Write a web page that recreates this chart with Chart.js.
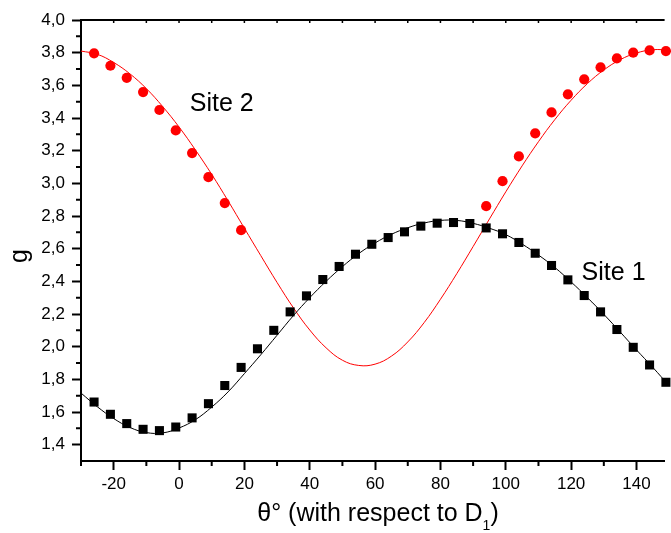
<!DOCTYPE html>
<html>
<head>
<meta charset="utf-8">
<script src="https://cdn.jsdelivr.net/npm/chart.js@4.4.1/dist/chart.umd.min.js"></script>
<style>
  html, body { margin: 0; padding: 0; background: #fff; }
  canvas { display: block; }
</style>
</head>
<body>
<canvas id="chart" width="671" height="533"></canvas>
<script>
// Site 1 measurements (black squares)
const site1Theta = [-26, -21, -16, -11, -6, -1, 4, 9, 14, 19, 24, 29, 34, 39, 44, 49, 54, 59,
                    64, 69, 74, 79, 84, 89, 94, 99, 104, 109, 114, 119, 124, 129, 134, 139, 144, 149];
const site1G = [1.661, 1.586, 1.529, 1.494, 1.486, 1.508, 1.564, 1.651, 1.762, 1.873, 1.987, 2.100,
                2.213, 2.311, 2.411, 2.491, 2.566, 2.627, 2.668, 2.703, 2.738, 2.756, 2.760, 2.754,
                2.727, 2.691, 2.638, 2.572, 2.497, 2.409, 2.313, 2.213, 2.105, 1.996, 1.888, 1.782];

// Site 2 measurements (red circles)
const site2Theta = [-26, -21, -16, -11, -6, -1, 4, 9, 14, 19,
                    94, 99, 104, 109, 114, 119, 124, 129, 134, 139, 144, 149];
const site2G = [3.796, 3.720, 3.646, 3.559, 3.449, 3.324, 3.185, 3.038, 2.879, 2.713,
                2.860, 3.013, 3.165, 3.306, 3.434, 3.545, 3.637, 3.710, 3.765, 3.800, 3.814, 3.810];

const fitTheta = [-30, -25, -20, -15, -10, -5, 0, 5, 10, 15, 20, 25, 30, 35, 40, 45, 50, 55, 60,
                  65, 70, 75, 80, 85, 90, 95, 100, 105, 110, 115, 120, 125, 130, 135, 140, 145, 150];
const fit1G = [1.716, 1.632, 1.560, 1.505, 1.474, 1.472, 1.502, 1.553, 1.630, 1.723, 1.835, 1.950,
               2.070, 2.190, 2.300, 2.400, 2.490, 2.570, 2.635, 2.688, 2.728, 2.757, 2.773, 2.773,
               2.755, 2.725, 2.686, 2.628, 2.561, 2.485, 2.396, 2.300, 2.198, 2.090, 1.980, 1.873, 1.760];
const fit2G = [3.810, 3.790, 3.740, 3.670, 3.580, 3.470, 3.345, 3.205, 3.055, 2.893, 2.725, 2.558,
               2.393, 2.238, 2.102, 1.993, 1.917, 1.885, 1.893, 1.942, 2.029, 2.147, 2.290, 2.447,
               2.613, 2.782, 2.948, 3.107, 3.255, 3.390, 3.509, 3.611, 3.694, 3.757, 3.798, 3.818, 3.816];

const xTicks = [-20, 0, 20, 40, 60, 80, 100, 120, 140];
const xMinorTicks = [-30, -10, 10, 30, 50, 70, 90, 110, 130];
const yTicks = [1.4, 1.6, 1.8, 2.0, 2.2, 2.4, 2.6, 2.8, 3.0, 3.2, 3.4, 3.6, 3.8, 4.0];
const yMinorTicks = [1.5, 1.7, 1.9, 2.1, 2.3, 2.5, 2.7, 2.9, 3.1, 3.3, 3.5, 3.7, 3.9];

const FONT = '"Liberation Sans", Arial, sans-serif';

function toPoints(xs, ys) {
    return xs.map((x, i) => ({ x: x, y: ys[i] }));
}

// top axis, minor ticks, site labels and axis titles
const frame = {
    id: 'frame',
    afterDraw(chart) {
        const { ctx, chartArea: a, scales: { x, y } } = chart;
        ctx.save();
        ctx.strokeStyle = '#000';
        ctx.lineWidth = 2;
        ctx.beginPath();
        ctx.moveTo(a.left - 1, a.top);
        ctx.lineTo(a.right, a.top);
        ctx.stroke();

        ctx.beginPath();
        xMinorTicks.forEach(v => {
            const px = x.getPixelForValue(v);
            ctx.moveTo(px, a.bottom);
            ctx.lineTo(px, a.bottom + 5);
        });
        yMinorTicks.forEach(v => {
            const py = y.getPixelForValue(v);
            ctx.moveTo(a.left, py);
            ctx.lineTo(a.left - 5, py);
        });
        ctx.stroke();

        ctx.lineWidth = 1.5;
        ctx.beginPath();
        xTicks.concat(xMinorTicks).forEach(v => {
            const px = x.getPixelForValue(v);
            ctx.moveTo(px, a.top);
            ctx.lineTo(px, a.top + 3);
        });
        ctx.stroke();

        ctx.fillStyle = '#000';
        ctx.font = '25px ' + FONT;
        ctx.textAlign = 'left';
        ctx.textBaseline = 'alphabetic';
        ctx.fillText('Site 2', x.getPixelForValue(3.3), y.getPixelForValue(3.44));
        ctx.fillText('Site 1', x.getPixelForValue(123.2), y.getPixelForValue(2.407));

        // y title
        ctx.save();
        ctx.translate(27, 256);
        ctx.rotate(-Math.PI / 2);
        ctx.textAlign = 'center';
        ctx.fillText('g', 0, 0);
        ctx.restore();

        // x title with subscript
        const head = 'θ° (with respect to D';
        ctx.font = '25px ' + FONT;
        const wHead = ctx.measureText(head).width;
        const wTail = ctx.measureText(')').width;
        ctx.font = '14px ' + FONT;
        const wSub = ctx.measureText('1').width;
        const total = wHead + wSub + wTail;
        let tx = 378 - total / 2;
        const base = 521;
        ctx.font = '25px ' + FONT;
        ctx.fillText(head, tx, base);
        tx += wHead;
        ctx.font = '14px ' + FONT;
        ctx.fillText('1', tx, base + 9);
        tx += wSub;
        ctx.font = '25px ' + FONT;
        ctx.fillText(')', tx, base);
        ctx.restore();
    }
};

new Chart(document.getElementById('chart'), {
    type: 'scatter',
    data: {
        datasets: [
            {
                label: 'Site 1',
                data: toPoints(site1Theta, site1G),
                pointStyle: 'rect',
                pointRadius: 6.4,
                backgroundColor: '#000',
                borderColor: '#000',
                borderWidth: 0,
                clip: false
            },
            {
                label: 'Site 2',
                data: toPoints(site2Theta, site2G),
                pointStyle: 'circle',
                pointRadius: 5.1,
                backgroundColor: '#ff0000',
                borderColor: '#ff0000',
                borderWidth: 0,
                clip: false
            },
            {
                label: 'Fit 1',
                type: 'line',
                data: toPoints(fitTheta, fit1G),
                borderColor: '#000',
                borderWidth: 1,
                pointRadius: 0,
                tension: 0.4,
                fill: false
            },
            {
                label: 'Fit 2',
                type: 'line',
                data: toPoints(fitTheta, fit2G),
                borderColor: '#ff0000',
                borderWidth: 1,
                pointRadius: 0,
                tension: 0.4,
                fill: false
            }
        ]
    },
    options: {
        responsive: false,
        animation: false,
        devicePixelRatio: 1,
        layout: { padding: { top: 20, right: 0, left: 0, bottom: 0 } },
        plugins: {
            legend: { display: false },
            tooltip: { enabled: false }
        },
        scales: {
            x: {
                type: 'linear',
                min: -30,
                max: 148.6,
                afterBuildTicks: scale => { scale.ticks = xTicks.map(v => ({ value: v })); },
                afterFit: scale => { scale.height = 72; },
                grid: {
                    drawOnChartArea: false,
                    tickLength: 9,
                    tickWidth: 2,
                    tickColor: '#000'
                },
                border: { display: true, color: '#000', width: 2 },
                ticks: {
                    color: '#000',
                    padding: 4,
                    maxRotation: 0,
                    font: { family: FONT, size: 17 },
                    callback: v => String(v)
                }
            },
            y: {
                type: 'linear',
                min: 1.3,
                max: 4.0,
                afterBuildTicks: scale => { scale.ticks = yTicks.map(v => ({ value: v })); },
                afterFit: scale => { scale.width = 81; },
                grid: {
                    drawOnChartArea: false,
                    tickLength: 9,
                    tickWidth: 2,
                    tickColor: '#000'
                },
                border: { display: true, color: '#000', width: 2 },
                ticks: {
                    color: '#000',
                    padding: 7,
                    font: { family: FONT, size: 17 },
                    callback: v => v.toFixed(1).replace('.', ',')
                }
            }
        }
    },
    plugins: [frame]
});
</script>
</body>
</html>
